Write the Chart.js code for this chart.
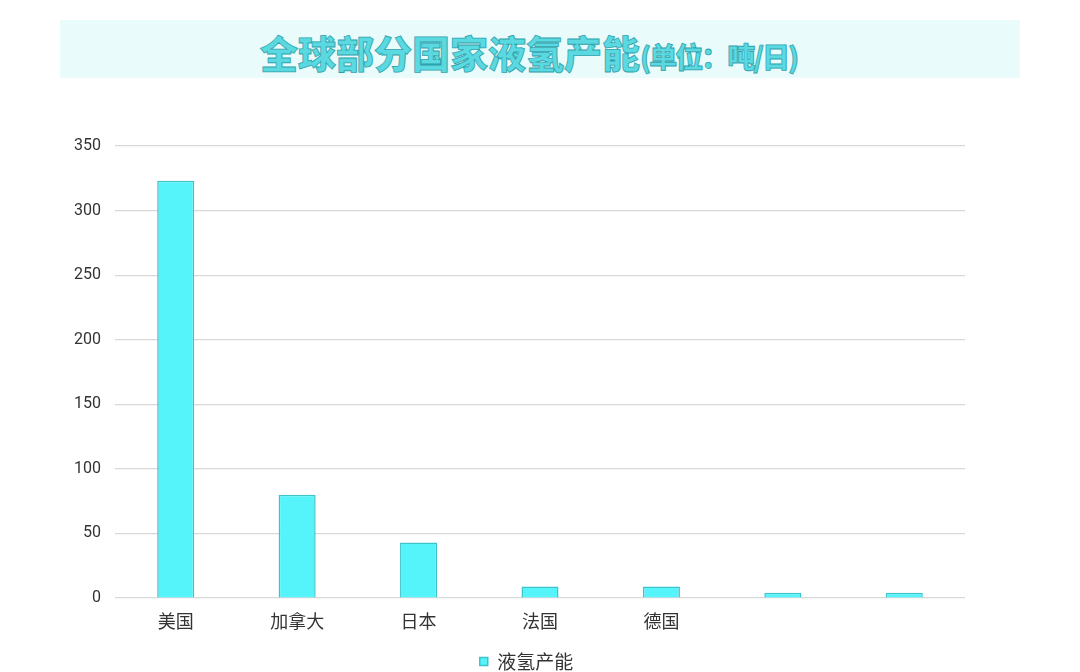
<!DOCTYPE html>
<html>
<head>
<meta charset="utf-8">
<script src="https://cdn.jsdelivr.net/npm/chart.js@4/dist/chart.umd.min.js"></script>
<style>
  body { margin: 0; background: #fff; width: 1080px; height: 672px; overflow: hidden; position: relative; font-family: "Noto Sans CJK SC", sans-serif; }
  #banner { position: absolute; left: 60px; top: 20px; width: 960px; height: 58px; background: #eafbfb; }
  #banner div { position: absolute; left: 200px; top: 3px; line-height: 58px; font-weight: 900; color: #5ad9e1; -webkit-text-stroke: 0.8px #2fa3ad; white-space: nowrap; }
  #banner span.main { font-size: 38px; }
  #banner span.unit { font-size: 28px; letter-spacing: -2px; }
  #wrap { position: absolute; left: 0; top: 100px; width: 1080px; height: 581px; }
</style>
</head>
<body>
<div id="banner"><div><span class="main">全球部分国家液氢产能</span><span class="unit">(单位：吨/日)</span></div></div>
<div id="wrap"><canvas id="myChart"></canvas></div>
<script>
// data
const countries = ['美国', '加拿大', '日本', '法国', '德国', '', ''];
const capacity = [323, 80, 43, 9, 9, 4, 4];
const yTicks = [0, 50, 100, 150, 200, 250, 300, 350];

const ctx = document.getElementById('myChart').getContext('2d');

// nudge the legend right so it sits under the middle of the plot
const legendShift = {
  id: 'legendShift',
  afterLayout(chart) {
    const lg = chart.legend;
    if (lg) { lg.left += 44; lg.right += 44; }
  }
};

new Chart(ctx, {
  type: 'bar',
  data: {
    labels: countries,
    datasets: [{
      label: '液氢产能',
      data: capacity,
      backgroundColor: '#55f4fb',
      borderColor: '#3fc3cb',
      borderWidth: 1.5,
      barPercentage: 0.5,
      categoryPercentage: 0.61
    }]
  },
  options: {
    responsive: true,
    maintainAspectRatio: false,
    animation: false,
    layout: { padding: { left: 0, right: 115, top: 46, bottom: 0 } },
    plugins: {
      legend: {
        position: 'bottom',
        labels: {
          boxWidth: 8,
          boxHeight: 8,
          color: '#333',
          font: { size: 19, family: '"Noto Sans CJK SC", sans-serif' },
          padding: 6
        }
      },
      tooltip: { enabled: false }
    },
    scales: {
      x: {
        afterFit: (scale) => { scale.height = 48; },
        grid: { display: false },
        border: { display: false },
        ticks: {
          color: '#333',
          padding: 4,
          font: { size: 18, family: '"Noto Sans CJK SC", sans-serif' }
        }
      },
      y: {
        min: 0,
        max: 350,
        afterFit: (scale) => { scale.width = 115; },
        afterBuildTicks: (scale) => { scale.ticks = yTicks.map(v => ({ value: v })); },
        border: { display: false },
        grid: { color: '#d8d8d8', lineWidth: 1.2, drawTicks: false },
        ticks: {
          color: '#333',
          padding: 14,
          font: { size: 16, family: 'Roboto, "Liberation Sans", sans-serif' }
        }
      }
    }
  },
  plugins: [legendShift]
});
</script>
</body>
</html>
